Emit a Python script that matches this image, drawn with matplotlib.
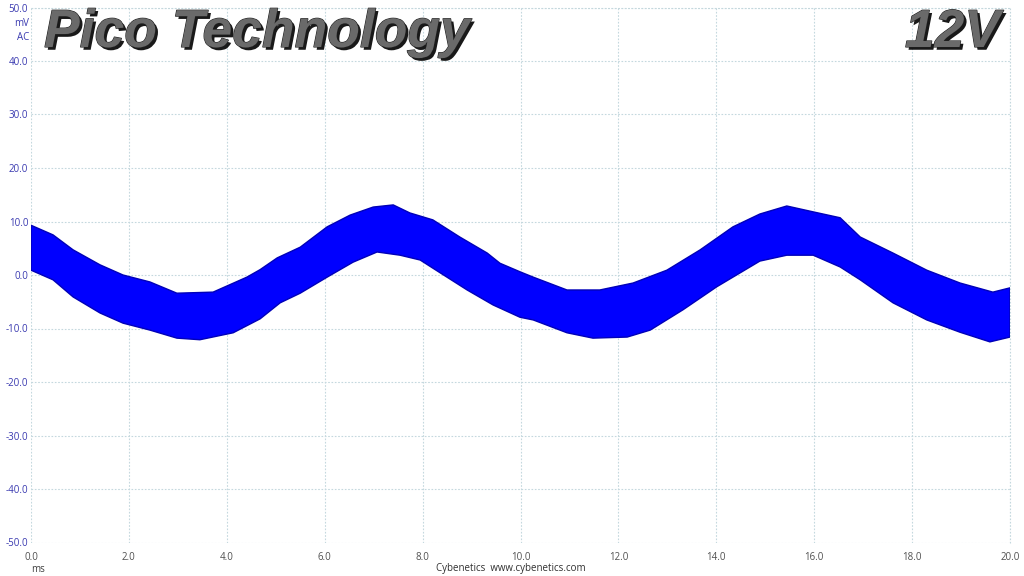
import numpy as np
import matplotlib
matplotlib.use("Agg")
import matplotlib.pyplot as plt
import matplotlib.patheffects as pe

# ---- data ----
t_upper = [0.0, 0.45, 0.86, 1.41, 1.88, 2.43, 2.98, 3.72, 4.41, 4.68, 5.03, 5.5, 6.05, 6.52,
           6.99, 7.4, 7.74, 8.21, 8.76, 9.32, 9.58, 9.99, 10.26, 10.95, 11.62, 12.3, 12.99,
           13.67, 14.34, 14.89, 15.44, 15.98, 16.53, 16.94, 17.61, 18.3, 18.98, 19.65, 20.0]
v_upper = [9.3, 7.5, 4.7, 1.9, 0.0, -1.3, -3.4, -3.2, -0.4, 1.0, 3.2, 5.2, 9.0, 11.2,
           12.7, 13.1, 11.6, 10.3, 7.1, 4.1, 2.2, 0.6, -0.4, -2.8, -2.8, -1.5, 0.9,
           4.7, 9.0, 11.4, 12.9, 11.8, 10.7, 7.1, 4.1, 0.9, -1.5, -3.2, -2.4]
t_lower = [0.0, 0.45, 0.86, 1.41, 1.88, 2.43, 2.98, 3.45, 4.13, 4.68, 5.09, 5.5, 6.05, 6.58,
           7.07, 7.54, 7.95, 8.36, 8.91, 9.44, 9.99, 10.26, 10.95, 11.48, 12.18, 12.65,
           13.32, 14.01, 14.89, 15.44, 15.98, 16.53, 16.94, 17.61, 18.3, 18.98, 19.59, 20.0]
v_lower = [0.9, -0.9, -4.1, -7.1, -9.0, -10.3, -11.8, -12.1, -10.8, -8.2, -5.2, -3.4, -0.4, 2.4,
           4.3, 3.7, 2.8, 0.4, -2.8, -5.6, -7.9, -8.4, -10.8, -11.8, -11.6, -10.3,
           -6.5, -2.2, 2.6, 3.7, 3.7, 1.5, -0.9, -5.2, -8.4, -10.7, -12.5, -11.6]

x_ticks = [0, 2, 4, 6, 8, 10, 12, 14, 16, 18, 20]
x_labels = ["0.0", "2.0", "4.0", "6.0", "8.0", "10.0", "12.0", "14.0", "16.0", "18.0", "20.0"]
y_ticks = [50, 40, 30, 20, 10, 0, -10, -20, -30, -40, -50]
y_labels = ["50.0", "40.0", "30.0", "20.0", "10.0", "0.0", "-10.0", "-20.0", "-30.0", "-40.0", "-50.0"]

plt.rcParams['font.family'] = ['Open Sans', 'DejaVu Sans']

fig = plt.figure(figsize=(10.24, 5.76), dpi=100)
ax = fig.add_axes([31/1024, 1 - 542.5/576, (1010 - 31)/1024, (542.5 - 7.5)/576])

poly_t = np.concatenate([t_upper, t_lower[::-1]])
poly_v = np.concatenate([v_upper, v_lower[::-1]])
ax.fill(poly_t, poly_v, facecolor='#0000ff', edgecolor='#0000b8', linewidth=1.0, zorder=3)

ax.set_xlim(0, 20)
ax.set_ylim(-50, 50)
ax.set_xticks(x_ticks)
ax.set_xticklabels(x_labels)
ax.set_yticks(y_ticks)
ax.set_yticklabels(y_labels)
ax.tick_params(axis='both', length=0, labelsize=7)
ax.tick_params(axis='x', pad=7, labelcolor='#505050')
ax.tick_params(axis='y', pad=2, labelcolor='#3a3ab0')
grid_kw = dict(color='#c4d8de', linestyle=(0, (1.5, 1.5)), linewidth=0.8, zorder=0)
ax.grid(True, **grid_kw)
for s in ax.spines.values():
    s.set_visible(False)
ax.axvline(20, clip_on=False, **grid_kw)
ax.axhline(50, clip_on=False, **grid_kw)

fig.text(29/1024, 1 - 24/576, "mV", ha='right', va='center', fontsize=7, color='#3a3ab0')
fig.text(29/1024, 1 - 37/576, "AC", ha='right', va='center', fontsize=7, color='#3a3ab0')
fig.text(38/1024, 1 - 570/576, "ms", ha='center', va='center', fontsize=7, color='#404040')
fig.text(511/1024, 1 - 569/576, "Cybenetics  www.cybenetics.com", ha='center', va='center',
         fontsize=7, color='#303030')

effects = [pe.SimplePatchShadow(offset=(2, -2), shadow_rgbFace='#000000', alpha=0.9),
           pe.Stroke(linewidth=0.8, foreground='#202020'), pe.Normal()]
fig.text(44/1024, 1 - 33/576, "Pico Technology", ha='left', va='center', fontsize=38.5,
         fontweight='bold', fontstyle='italic', family=['Liberation Sans', 'DejaVu Sans'],
         color='#6a6a6a', path_effects=effects, zorder=10)
fig.text(1000/1024, 1 - 33/576, "12V", ha='right', va='center', fontsize=38.5,
         fontweight='bold', fontstyle='italic', family=['Liberation Sans', 'DejaVu Sans'],
         color='#6a6a6a', path_effects=effects, zorder=10)

fig.savefig("out.png", dpi=100)
